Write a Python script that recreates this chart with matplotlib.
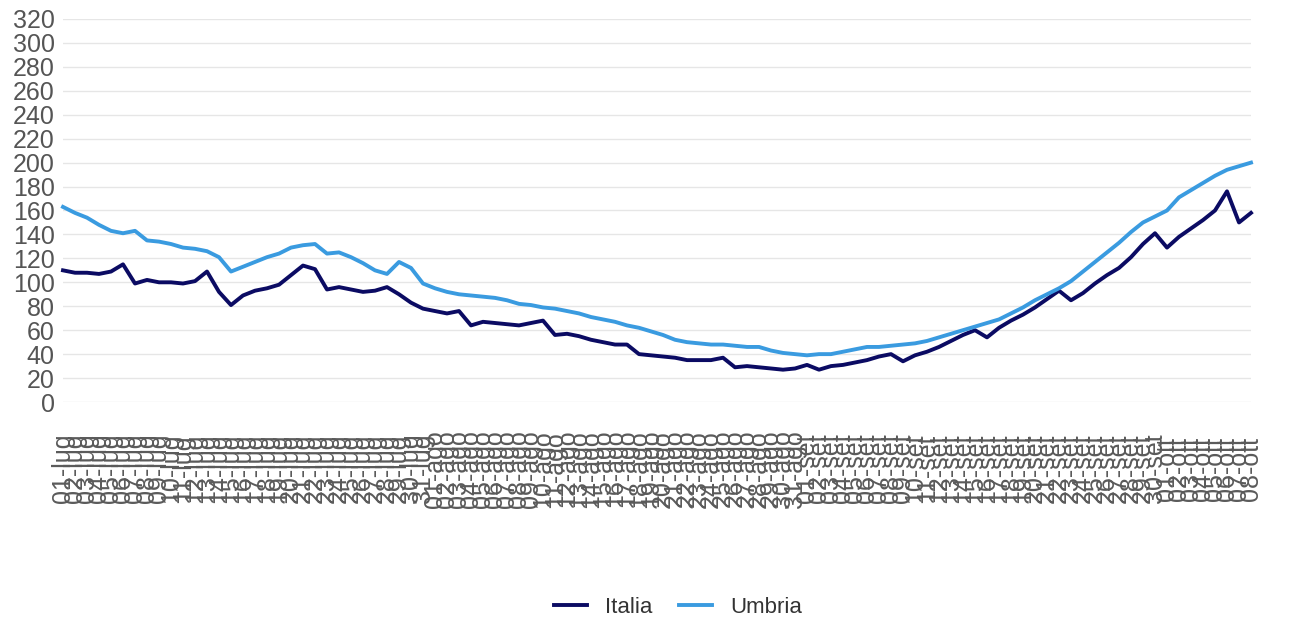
import matplotlib
matplotlib.use("Agg")
import matplotlib.pyplot as plt
import pandas as pd

plt.rcParams.update({
    'font.family': ['Liberation Sans', 'DejaVu Sans'],
    'font.size': 14,
})

# daily dates shown on the x axis, Italian month abbreviations
mesi = ["gen", "feb", "mar", "apr", "mag", "giu", "lug", "ago", "set", "ott", "nov", "dic"]
giorni = pd.date_range("2021-07-01", periods=100, freq="D")
dates = [f"{d.day:02d}-{mesi[d.month - 1]}" for d in giorni]

italia = [110, 108, 108, 107, 109, 115, 99, 102, 100, 100,
          99, 101, 109, 92, 81, 89, 93, 95, 98, 106,
          114, 111, 94, 96, 94, 92, 93, 96, 90, 83,
          78, 76, 74, 76, 64, 67, 66, 65, 64, 66,
          68, 56, 57, 55, 52, 50, 48, 48, 40, 39,
          38, 37, 35, 35, 35, 37, 29, 30, 29, 28,
          27, 28, 31, 27, 30, 31, 33, 35, 38, 40,
          34, 39, 42, 46, 51, 56, 60, 54, 62, 68,
          73, 79, 86, 93, 85, 91, 99, 106, 112, 121,
          132, 141, 129, 138, 145, 152, 160, 176, 150, 158]

umbria = [163, 158, 154, 148, 143, 141, 143, 135, 134, 132,
          129, 128, 126, 121, 109, 113, 117, 121, 124, 129,
          131, 132, 124, 125, 121, 116, 110, 107, 117, 112,
          99, 95, 92, 90, 89, 88, 87, 85, 82, 81,
          79, 78, 76, 74, 71, 69, 67, 64, 62, 59,
          56, 52, 50, 49, 48, 48, 47, 46, 46, 43,
          41, 40, 39, 40, 40, 42, 44, 46, 46, 47,
          48, 49, 51, 54, 57, 60, 63, 66, 69, 74,
          79, 85, 90, 95, 101, 109, 117, 125, 133, 142,
          150, 155, 160, 171, 177, 183, 189, 194, 197, 200]

fig = plt.figure(figsize=(13.04, 6.18), dpi=100)
ax = fig.add_axes([63 / 1304, 1 - 402 / 618, (1251 - 63) / 1304, 383 / 618])

x = list(range(len(dates)))
ax.plot(x, italia, color='#0b0b63', lw=2.8, label='Italia', clip_on=False)
ax.plot(x, umbria, color='#3a9be0', lw=2.8, label='Umbria', clip_on=False)

ax.set_ylim(0, 320)
ax.set_xlim(0, len(dates) - 1)
ax.set_yticks(range(0, 321, 20))
ax.set_xticks(x)
ax.set_xticklabels(dates, rotation=90, fontsize=18, color='#5a5a5a', va='center')
ax.tick_params(axis='y', length=0, pad=6, labelsize=18, labelcolor='#555555')
ax.tick_params(axis='x', length=0, pad=48)

ax.grid(axis='y', color='#e6e6e6', lw=1)
ax.set_axisbelow(True)
for s in ax.spines.values():
    s.set_visible(False)

leg = fig.legend(loc='lower center', bbox_to_anchor=(0.52, -0.032), ncol=2, frameon=False,
                 fontsize=16, handlelength=1.5, columnspacing=1.2, handletextpad=0.8)
for t in leg.get_texts():
    t.set_color('#333333')

fig.savefig("out.png", dpi=100)
